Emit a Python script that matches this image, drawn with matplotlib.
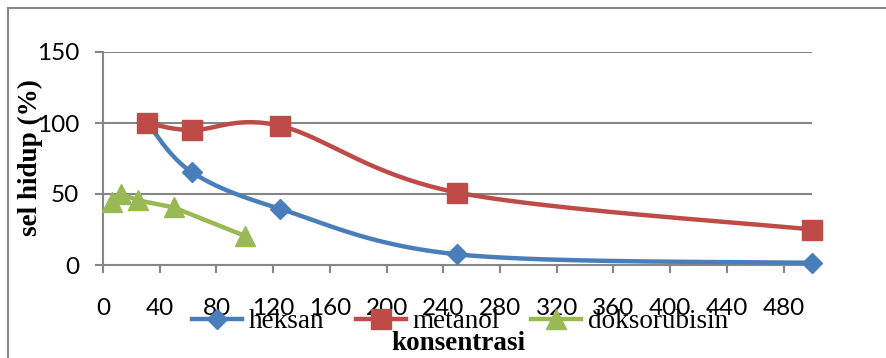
import numpy as np
import matplotlib
matplotlib.use("Agg")
import matplotlib.pyplot as plt
from matplotlib.lines import Line2D

# ---- data ----
heksan_x = [31.25, 62.5, 125, 250, 500]
heksan_y = [100, 65.5, 39.5, 7.5, 1.5]
metanol_x = [31.25, 62.5, 125, 250, 500]
metanol_y = [100, 95, 98, 51, 25]
doks_x = [6.25, 12.5, 25, 50, 100]
doks_y = [44.5, 50, 45.5, 40.5, 20.5]
series_names = ["heksan", "metanol", "doksorubisin"]
x_ticks = list(range(0, 481, 40))
y_ticks = [0, 50, 100, 150]

BLUE = "#4A7EBB"
RED = "#BE4B48"
GREEN = "#98B954"
GRID = "#868686"


def smooth(xs, ys, n=40):
    """Excel-like smoothed line (Catmull-Rom -> cubic Bezier)."""
    P = np.column_stack([xs, ys]).astype(float)
    out = []
    for i in range(len(P) - 1):
        p0 = P[i - 1] if i > 0 else P[i]
        p1 = P[i]
        p2 = P[i + 1]
        p3 = P[i + 2] if i + 2 < len(P) else P[i + 1]
        c1 = p1 + (p2 - p0) / 6.0
        c2 = p2 - (p3 - p1) / 6.0
        t = np.linspace(0, 1, n)[:, None]
        seg = ((1 - t) ** 3) * p1 + 3 * ((1 - t) ** 2) * t * c1 + 3 * (1 - t) * t ** 2 * c2 + t ** 3 * p2
        out.append(seg if i == 0 else seg[1:])
    s = np.vstack(out)
    return s[:, 0], s[:, 1]


W, H = 887, 358
fig = plt.figure(figsize=(W / 100, H / 100), dpi=100)
ax = fig.add_axes([103 / W, 1 - 265 / H, (812 - 103) / W, (265 - 52) / H])

ax.set_xlim(0, 500)
ax.set_ylim(0, 150)

for yv in y_ticks[1:]:
    ax.axhline(yv, color=GRID, lw=1.5, zorder=1)

lw = 3.2
sx, sy = smooth(heksan_x, heksan_y)
ax.plot(sx, sy, color=BLUE, lw=lw, zorder=3, solid_capstyle="round")
ax.plot(heksan_x, heksan_y, ls="none", marker="D", ms=10, color=BLUE, zorder=4, clip_on=False)

sx, sy = smooth(metanol_x, metanol_y)
ax.plot(sx, sy, color=RED, lw=lw, zorder=3, solid_capstyle="round")
ax.plot(metanol_x, metanol_y, ls="none", marker="s", ms=14, color=RED, zorder=4, clip_on=False)

ax.plot(doks_x, doks_y, color=GREEN, lw=lw, zorder=3, solid_capstyle="round")
ax.plot(doks_x, doks_y, ls="none", marker="^", ms=14, color=GREEN, zorder=4, clip_on=False)

for s in ["top", "right"]:
    ax.spines[s].set_visible(False)
for s in ["left", "bottom"]:
    ax.spines[s].set_color(GRID)
    ax.spines[s].set_linewidth(1.5)

ax.set_xticks(x_ticks)
ax.set_yticks(y_ticks)
ax.tick_params(axis="both", direction="out", length=6, width=1.5, color=GRID,
               labelsize=17.5, labelcolor="black")
ax.tick_params(axis="x", pad=18)
ax.tick_params(axis="y", pad=11)
for lab in ax.get_xticklabels() + ax.get_yticklabels():
    lab.set_fontfamily("Lato")

SERIF = "Liberation Serif"
# y label
fig.text(30 / W, 1 - 158 / H, "sel hidup (%)", rotation=90, ha="center", va="center",
         fontfamily=SERIF, fontweight="bold", fontsize=19.5)
# x label
fig.text(458 / W, 1 - 344 / H, "konsentrasi", ha="center", va="center",
         fontfamily=SERIF, fontweight="bold", fontsize=19.5)

handles = [
    Line2D([], [], color=BLUE, lw=lw, marker="D", ms=10),
    Line2D([], [], color=RED, lw=lw, marker="s", ms=14),
    Line2D([], [], color=GREEN, lw=lw, marker="^", ms=14),
]
leg = fig.legend(handles, series_names, loc="center left", bbox_to_anchor=(192 / W, 1 - 322 / H),
                 ncol=3, frameon=False, borderpad=0, borderaxespad=0, handlelength=1.85,
                 handletextpad=0.25, columnspacing=1.15,
                 prop={"family": SERIF, "size": 19.5})

# outer chart frame (cropped)
fig.add_artist(Line2D([8 / W, 8 / W], [0, 1 - 8 / H], color=GRID, lw=1.5, transform=fig.transFigure))
fig.add_artist(Line2D([8 / W, 1], [1 - 8 / H, 1 - 8 / H], color=GRID, lw=1.5, transform=fig.transFigure))

fig.savefig("out.png", dpi=100)
